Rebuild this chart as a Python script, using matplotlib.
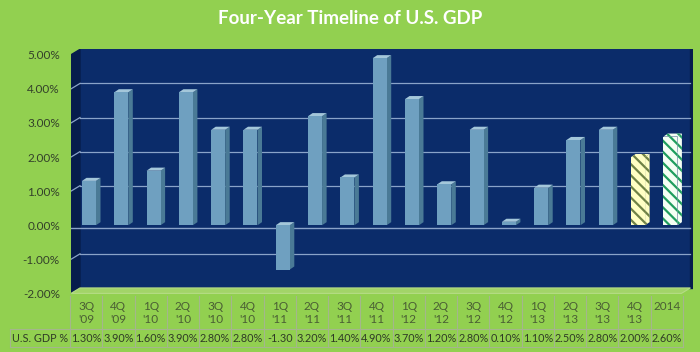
import matplotlib.pyplot as plt
from matplotlib.patches import Polygon, Rectangle
import numpy as np

plt.rcParams['font.family'] = ['Lato', 'DejaVu Sans']
plt.rcParams['hatch.linewidth'] = 1.6

# chart data
quarters = ["3Q\n'09", "4Q\n'09", "1Q\n'10", "2Q\n'10", "3Q\n'10", "4Q\n'10",
            "1Q\n'11", "2Q\n'11", "3Q\n'11", "4Q\n'11", "1Q\n'12", "2Q\n'12",
            "3Q\n'12", "4Q\n'12", "1Q\n'13", "2Q\n'13", "3Q\n'13", "4Q\n'13", "2014"]
gdp = [1.3, 3.9, 1.6, 3.9, 2.8, 2.8, -1.3, 3.2, 1.4, 4.9, 3.7, 1.2,
       2.8, 0.1, 1.1, 2.5, 2.8, 2.0, 2.6]
gdp_text = ['1.30%', '3.90%', '1.60%', '3.90%', '2.80%', '2.80%', '-1.30', '3.20%',
            '1.40%', '4.90%', '3.70%', '1.20%', '2.80%', '0.10%', '1.10%', '2.50%',
            '2.80%', '2.00%', '2.60%']
ytick_vals = [-2, -1, 0, 1, 2, 3, 4, 5]
ytick_text = ['-2.00%', '-1.00%', '0.00%', '1.00%', '2.00%', '3.00%', '4.00%', '5.00%']

green = '#92d050'
navy = '#0b2c6a'
wall = '#061d4c'
grid_c = '#8aa3c9'
front_c = '#6fa0c0'
side_c = '#4a7a96'
top_c = '#a4c7da'
# hatched forecast bars: (background, stripes)
hatch_styles = {17: ('#ffffc4', '#6f8246'), 18: ('#f4fff4', '#1f9e5e')}

fig = plt.figure(figsize=(7, 3.52), dpi=100, facecolor=green)
ax = fig.add_axes([71 / 700, 58 / 352, 622 / 700, 245 / 352])
ax.set_facecolor(green)

xl, xr = -0.557, 18.70
DX, DY = 0.279, 0.16          # depth offset of back wall
bw = 0.433                    # bar front width
sdx, sdy = 0.14, 0.09         # bar depth

ax.set_xlim(xl, xr)
ax.set_ylim(-2.018, 5.17)

xback_r = 18.62
# back wall, left wall, floor
ax.add_patch(Rectangle((xl + DX, -2 + DY), xback_r - xl - DX, 7, color=navy, zorder=0))
ax.add_patch(Rectangle((xback_r, -2 + DY), xr - xback_r, 7, color=wall, zorder=0))
ax.add_patch(Polygon([(xl, -2), (xl, 5), (xl + DX, 5 + DY), (xl + DX, -2 + DY)],
                     closed=True, color=wall, zorder=1))
ax.add_patch(Polygon([(xl, -2), (xl + DX, -2 + DY), (xback_r, -2 + DY), (xback_r - DX, -2)],
                     closed=True, facecolor='#a2d468', edgecolor='#b5dc85', lw=0.8, zorder=1))

# gridlines
for v in ytick_vals[1:-1]:
    if v == 0:
        ax.plot([xl, xback_r], [v - 0.08, v - 0.08], color=grid_c, lw=1, zorder=2)
        continue
    ax.plot([xl + DX, xback_r], [v + DY, v + DY], color=grid_c, lw=0.9, zorder=2)
    ax.plot([xl, xl + DX], [v, v + DY], color=grid_c, lw=0.9, zorder=2)

# bars
x = np.arange(len(gdp))
for i, v in enumerate(gdp):
    if i in hatch_styles:
        bg, st = hatch_styles[i]
        kw = dict(facecolor=bg, edgecolor=st, hatch='\\\\\\', lw=0)
        kw_side = dict(facecolor=bg, edgecolor=st, hatch='\\\\\\', lw=0)
        kw_top = dict(facecolor=bg, edgecolor=st, hatch='\\\\\\', lw=0)
    else:
        kw = dict(facecolor=front_c, lw=0)
        kw_side = dict(facecolor=side_c, lw=0)
        kw_top = dict(facecolor=top_c, lw=0)
    ax.bar(x[i], v, width=bw, zorder=4, **kw)
    r = x[i] + bw / 2
    hi = max(v, 0)
    lo = min(v, 0)
    ax.add_patch(Polygon([(r, lo), (r, hi), (r + sdx, hi + sdy), (r + sdx, lo + sdy)],
                         closed=True, zorder=3, **kw_side))
    ax.add_patch(Polygon([(x[i] - bw / 2, hi), (r, hi), (r + sdx, hi + sdy),
                          (x[i] - bw / 2 + sdx, hi + sdy)], closed=True, zorder=3, **kw_top))

ax.set_xticks([])
ax.set_yticks(ytick_vals)
ax.set_yticklabels(ytick_text)
ax.tick_params(axis='y', length=0, pad=8, labelsize=8.5, labelcolor='#33402a')
for s in ax.spines.values():
    s.set_visible(False)

# title and data table in pixel coordinates
pax = fig.add_axes([0, 0, 1, 1])
pax.set_xlim(0, 700)
pax.set_ylim(352, 0)
pax.axis('off')
pax.patch.set_alpha(0)

pax.text(350, 19, 'Four-Year Timeline of U.S. GDP', ha='center', va='center',
         color='white', fontsize=13.5, fontweight='bold')

line_c = '#a4b68c'
col_x0, col_w = 70, 32.26
n = len(quarters)
for k in range(n + 1):
    xx = col_x0 + col_w * k
    pax.plot([xx, xx], [296, 347], color=line_c, lw=0.8)
pax.plot([10, 10], [329, 347], color=line_c, lw=0.8)
pax.plot([10, col_x0 + col_w * n], [329, 329], color=line_c, lw=0.8)
pax.plot([10, col_x0 + col_w * n], [347, 347], color=line_c, lw=0.8)

for k in range(n):
    cx = col_x0 + col_w * (k + 0.5)
    lab = quarters[k]
    yy = 313 if '\n' in lab else 306
    pax.text(cx, yy, lab, ha='center', va='center', fontsize=8.5,
             color='#4a5e34', linespacing=1.2)
    pax.text(cx, 338.5, gdp_text[k], ha='center', va='center', fontsize=7.8, color='#2f3a26')
pax.text(40, 338.5, 'U.S. GDP %', ha='center', va='center', fontsize=7.8, color='#2f3a26')

fig.savefig('out.png', dpi=100, facecolor=green)
